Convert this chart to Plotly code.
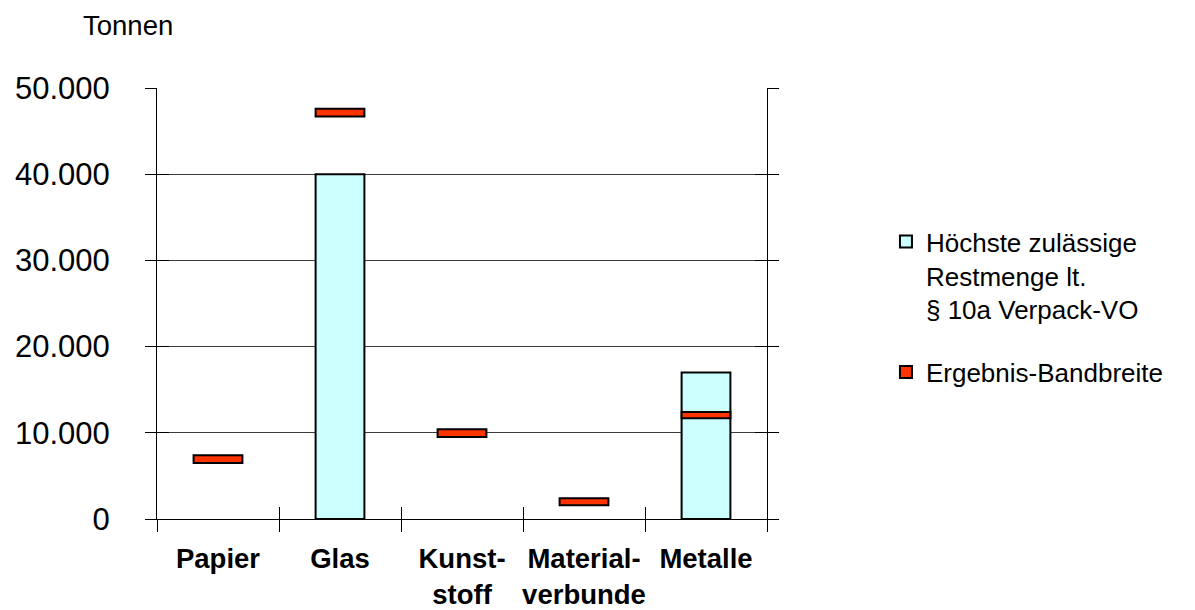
import plotly.graph_objects as go

# Material categories (line breaks as printed on the axis)
categories = ["Papier", "Glas", "Kunst-<br>stoff", "Material-<br>verbunde", "Metalle"]

# Maximum permitted residual quantity per § 10a Verpack-VO (tonnes)
max_residual = [None, 40000, None, None, 17000]

# Result range (low / high, tonnes)
range_low = [6500, 46700, 9500, 1600, 11700]
range_high = [7400, 47600, 10400, 2400, 12400]

name_limit = "Höchste zulässige<br>Restmenge lt.<br>§ 10a Verpack-VO"
name_range = "Ergebnis-Bandbreite"

y_ticks = [0, 10000, 20000, 30000, 40000, 50000]

FONT = "Liberation Sans, Arial, sans-serif"
BAR_W = 0.4

fig = go.Figure()

fig.add_trace(go.Bar(
    x=categories, y=max_residual, width=BAR_W, name=name_limit,
    marker=dict(color="#CCFFFF", line=dict(color="black", width=2)),
    legendgroup="a",
))

fig.add_trace(go.Bar(
    x=categories,
    y=[h - l for h, l in zip(range_high, range_low)],
    base=range_low, width=BAR_W, name=name_range,
    marker=dict(color="#FF3300", line=dict(color="black", width=2)),
    legendgroup="b",
))

# empty trace so the overlay axes (inner half of the crossing ticks) get drawn
fig.add_trace(go.Scatter(x=[], y=[], xaxis="x2", yaxis="y2",
                         showlegend=False, hoverinfo="skip"))

n = len(categories)
boundaries = [i - 0.5 for i in range(n + 1)]

fig.update_layout(
    width=1195, height=610,
    margin=dict(l=157, r=428, t=88, b=91, autoexpand=False),
    paper_bgcolor="white", plot_bgcolor="white",
    barmode="overlay",
    separators=",.",
    font=dict(family=FONT, size=27, color="black"),
    showlegend=True,
    legend=dict(
        x=1.195, y=0.698, xanchor="left", yanchor="top", valign="top",
        font=dict(size=26, family=FONT, color="black"),
        tracegroupgap=26, bgcolor="rgba(0,0,0,0)",
    ),
    xaxis=dict(
        type="category", range=[-0.5, n - 0.5], automargin=False,
        showline=True, linecolor="black", linewidth=1,
        ticks="outside", tickson="boundaries", ticklen=12, tickcolor="black",
        tickangle=0,
        tickfont=dict(family=FONT, size=27.5, color="black", weight="bold"),
        ticklabelstandoff=15, showgrid=False, zeroline=False,
    ),
    xaxis2=dict(
        overlaying="x", anchor="y", type="linear", range=[-0.5, n - 0.5],
        tickvals=boundaries, ticks="inside", ticklen=12, tickcolor="black",
        showticklabels=False, showgrid=False, zeroline=False, showline=False,
    ),
    yaxis=dict(
        range=[0, 50000], tickvals=y_ticks, tickformat=",d", automargin=False,
        showline=True, linecolor="black", linewidth=1, mirror="ticks",
        ticks="outside", ticklen=11, tickcolor="black",
        tickfont=dict(family=FONT, size=31, color="black"),
        ticklabelstandoff=29,
        showgrid=True, gridcolor="#3c3c3c", gridwidth=1, zeroline=False,
    ),
    yaxis2=dict(
        overlaying="y", anchor="x", range=[0, 50000], tickvals=y_ticks,
        ticks="inside", ticklen=12, tickcolor="black", mirror="ticks",
        showline=True, linecolor="black",
        showticklabels=False, showgrid=False, zeroline=False,
    ),
    annotations=[dict(
        text="Tonnen", xref="paper", yref="paper",
        x=-0.125, y=1.146, xanchor="left", yanchor="middle",
        showarrow=False, font=dict(family=FONT, size=27.5, color="black"),
    )],
)

fig.write_html("out.html")
